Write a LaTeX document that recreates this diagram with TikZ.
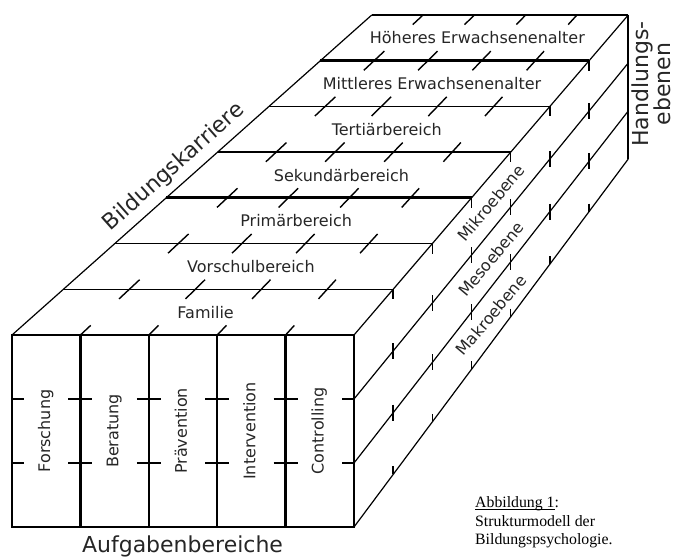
\documentclass[tikz,border=0pt]{standalone}
\usepackage{fontspec}
\setmainfont{DejaVu Sans}
\newfontfamily\capfont{Liberation Serif}
\usetikzlibrary{calc}
\begin{document}
\begin{tikzpicture}[x=1pt,y=-1pt,
  thinline/.style={line width=1.2pt},
  frontline/.style={line width=2.5pt},
  tickline/.style={line width=1.4pt},
  lab/.style={font=\fontsize{16}{18}\selectfont, inner sep=0pt, text=black!85},
  biglab/.style={font=\fontsize{22}{18}\selectfont, inner sep=0pt, text=black!85},
  caplab/.style={font=\capfont\fontsize{15.8}{18}\selectfont, inner sep=0pt, anchor=base west}]
\useasboundingbox (0,0) rectangle (675,557);
% corners of the block
\coordinate (FTL) at (12,335);
\coordinate (FTR) at (354,335);
\coordinate (FBL) at (12,527);
\coordinate (FBR) at (354,527);
\coordinate (BTL) at (371.75,15);
\coordinate (BTR) at (628.25,15);
\coordinate (BBR) at (628.25,159);
% top face: strip lines
\foreach \j/\w in {1/1.2,2/1.6,3/3,4/2.2,5/1.6,6/3}{
  \draw[line width=\w pt] ($(FTL)!{\j/7}!(BTL)$) -- ($(FTR)!{\j/7}!(BTR)$);
}
\draw[thinline] (FTL) -- (BTL);
\draw[line width=1.5pt] (BTL) -- (BTR);
\draw[line width=2pt] (BTR) -- (BBR);
% side face lines
\foreach \k in {0,1,2,3}{
  \coordinate (SA\k) at ($(FTR)!{\k/3}!(FBR)$);
  \coordinate (SB\k) at ($(BTR)!{\k/3}!(BBR)$);
  \coordinate (M\k) at ($(SA\k)!0.5!(SB\k)$);
  \draw[thinline] (SA\k) -- (SB\k);
}
% side face ticks
\foreach \k in {0,1,2,3}{
  \foreach \j in {1,...,6}{
    \pgfmathsetmacro\up{\k==0 ? 0 : 8}
    \pgfmathsetmacro\dn{\k==3 ? 0 : (\k==0 ? 10 : 8)}
    \coordinate (P) at ($(SA\k)!{\j/7}!(SB\k)$);
    \draw[tickline] ($(P)+(0,-\up)$) -- ($(P)+(0,\dn)$);
  }
}
% top face ticks along the column lines
\foreach \c in {1,2,3,4}{
  \coordinate (CF\c) at ($(FTL)!{\c/5}!(FTR)$);
  \coordinate (CB\c) at ($(BTL)!{\c/5}!(BTR)$);
  \coordinate (CD\c) at ($(FBL)!{\c/5}!(FBR)$);
  \foreach \j in {0,...,7}{
    \pgfmathsetmacro\ta{max(0,\j/7-0.03)}
    \pgfmathsetmacro\tb{min(1,\j/7+0.03)}
    \draw[tickline] ($(CF\c)!\ta!(CB\c)$) -- ($(CF\c)!\tb!(CB\c)$);
  }
}
% front face
\draw[frontline] (FTL) rectangle (FBR);
\foreach \c in {1,2,3,4}{
  \draw[frontline] (CF\c) -- (CD\c);
}
\foreach \r in {1,2}{
  \coordinate (RL\r) at ($(FTL)!{\r/3}!(FBL)$);
  \coordinate (RR\r) at ($(FTR)!{\r/3}!(FBR)$);
  \foreach \c in {0,...,5}{
    \pgfmathsetmacro\lf{\c==0 ? 0 : 12}
    \pgfmathsetmacro\rt{\c==5 ? 0 : 12}
    \coordinate (Q) at ($(RL\r)!{\c/5}!(RR\r)$);
    \draw[line width=2pt] ($(Q)+(-\lf,0)$) -- ($(Q)+(\rt,0)$);
  }
}
% strip labels
\foreach \j/\name in {0/Familie,1/Vorschulbereich,2/Primärbereich,3/Sekundärbereich,4/Tertiärbereich,5/Mittleres Erwachsenenalter,6/Höheres Erwachsenenalter}{
  \coordinate (sl\j) at ($(FTL)!{(\j+0.5)/7}!(BTL)$);
  \coordinate (sr\j) at ($(FTR)!{(\j+0.5)/7}!(BTR)$);
  \node[lab, anchor=base] (strip\j) at ($(sl\j)!0.5!(sr\j)+(0,6)$) {\name};
}
% column labels
\foreach \c/\name in {0/Forschung,1/Beratung,2/Prävention,3/Intervention,4/Controlling}{
  \node[lab, rotate=90, text height=11.5pt, text depth=3.7pt] (col\c) at ($(FTL)!{(\c+0.5)/5}!(FTR)+(0,96)$) {\name};
}
% side labels
\foreach \k/\kk/\name in {0/1/Mikroebene,1/2/Mesoebene,2/3/Makroebene}{
  \node[lab, rotate=50] (lev\k) at ($(M\k)!0.5!(M\kk)$) {\name};
}
% axis titles
\node[biglab, rotate=41.6] (bk) at (174,167) {Bildungskarriere};
\node[biglab, rotate=90, align=center] (he) at (651.5,84) {Handlungs-\\ebenen};
\node[biglab, anchor=base] (ab) at (182.5,552) {Aufgabenbereiche};
% caption
\node[caplab] (cap1) at (475,507) {Abbildung 1\rlap{:}};
\draw[line width=0.8pt] ($(cap1.base west)+(0,2)$) -- ($(cap1.base east)+(0,2)$);
\node[caplab] (cap2) at (475,526) {Strukturmodell der};
\node[caplab] (cap3) at (475,544) {Bildungspsychologie.};
\end{tikzpicture}
\end{document}
